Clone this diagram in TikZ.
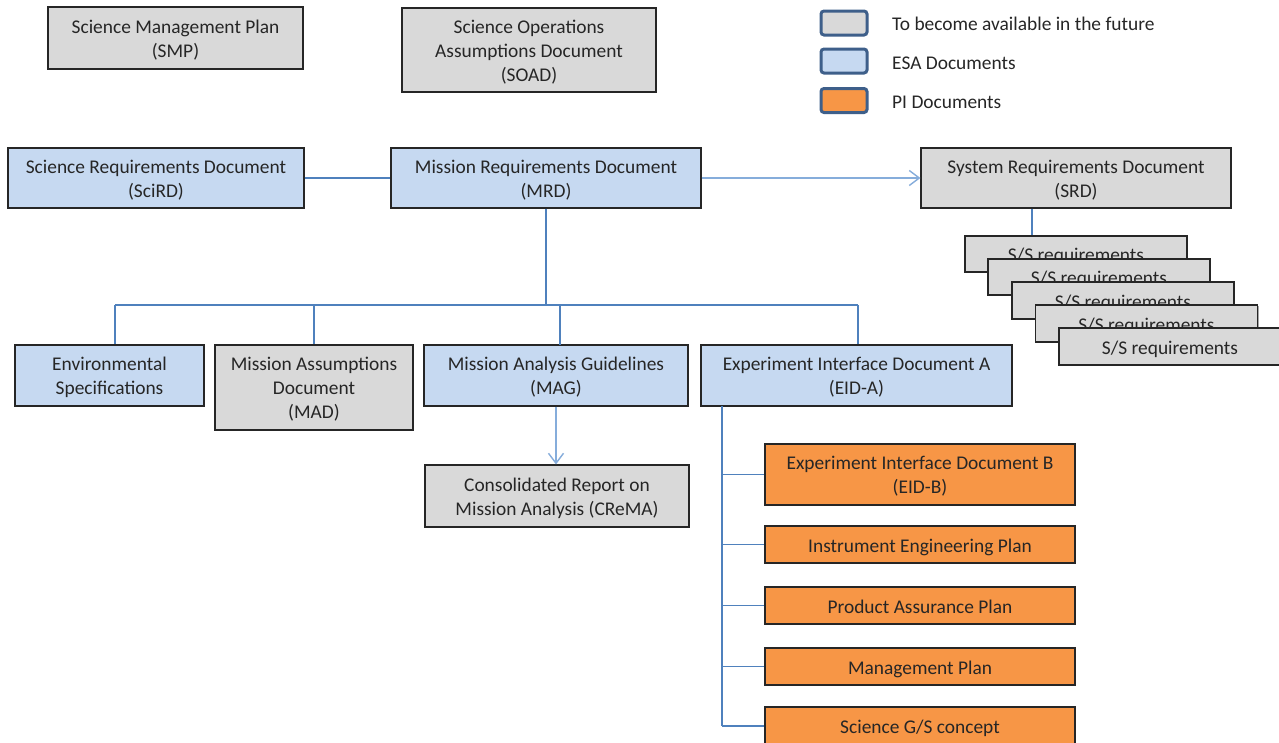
\documentclass[tikz,border=0pt]{standalone}
\usepackage{fontspec}
\setmainfont{Carlito}
\usetikzlibrary{arrows.meta,shadows}
\definecolor{esablue}{HTML}{C6D9F1}
\definecolor{futgray}{HTML}{D9D9D9}
\definecolor{piorange}{HTML}{F79646}
\definecolor{connblue}{HTML}{4F81BD}
\definecolor{arrblue}{HTML}{86ADDB}
\definecolor{legborder}{HTML}{3E5F8A}
\definecolor{txt}{HTML}{262626}
\tikzset{
  doc/.style={draw=black!85, line width=1.1pt, rectangle, inner sep=0pt, align=center,
    text=txt, font=\fontsize{19.4}{24}\selectfont, text height=15pt, text depth=0pt,
    drop shadow={shadow xshift=1.4pt, shadow yshift=-1.4pt, opacity=.35, fill=black}},
  twolines/.style={text height=38.5pt},
  threelines/.style={text height=62pt},
  esa/.style={doc, fill=esablue},
  fut/.style={doc, fill=futgray},
  pi/.style={doc, fill=piorange},
  conn/.style={draw=connblue, line width=1.8pt},
  arr/.style={draw=arrblue, line width=1.4pt, -{Straight Barb[length=10pt,width=15pt,line width=1.4pt]}},
  legbox/.style={draw=legborder, line width=3pt, rounded corners=3pt, minimum width=46pt, minimum height=24pt, inner sep=0pt},
  legtext/.style={anchor=west, text=txt, font=\fontsize{19.4}{24}\selectfont, inner sep=0pt},
}
\begin{document}
\begin{tikzpicture}[x=1pt,y=-1pt]
\useasboundingbox (0,0) rectangle (1279,742);
\fill[white] (0,0) rectangle (1279,742);

% legend
\node[legbox, fill=futgray] (lg1) at (844,23) {};
\node[legbox, fill=esablue] (lg2) at (844,61) {};
\node[legbox, fill=piorange] (lg3) at (844,100.5) {};
\node[legtext] (lt1) at (892,24) {To become available in the future};
\node[legtext] (lt2) at (892,63) {ESA Documents};
\node[legtext] (lt3) at (892,102) {PI Documents};

% top documents
\node[fut, twolines, minimum width=255pt, minimum height=62pt] (smp) at (175.5,38) {Science Management Plan\\(SMP)};
\node[fut, threelines, minimum width=254pt, minimum height=84pt] (soad) at (529,50) {Science Operations\\Assumptions Document\\(SOAD)};

\node[esa, twolines, minimum width=296pt, minimum height=60pt] (scird) at (156,178) {Science Requirements Document\\(SciRD)};
\node[esa, twolines, minimum width=310pt, minimum height=60pt] (mrd) at (546,178) {Mission Requirements Document\\(MRD)};
\node[fut, twolines, minimum width=310pt, minimum height=60pt] (srd) at (1076,178) {System Requirements Document\\(SRD)};

% S/S stack
\node[fut, minimum width=222pt, minimum height=36pt] (ss1) at (1076,254) {S/S requirements};
\node[fut, minimum width=222pt, minimum height=36pt] (ss2) at (1099,277) {S/S requirements};
\node[fut, minimum width=222pt, minimum height=37pt] (ss3) at (1123,300.5) {S/S requirements};
\node[fut, minimum width=222pt, minimum height=37pt] (ss4) at (1146.5,323.5) {S/S requirements};
\node[fut, minimum width=222pt, minimum height=37pt] (ss5) at (1170,346.5) {S/S requirements};

% second row
\node[esa, twolines, minimum width=189pt, minimum height=61pt] (env) at (109.5,375.5) {Environmental\\Specifications};
\node[fut, threelines, minimum width=198pt, minimum height=85pt] (mad) at (314,387.5) {Mission Assumptions\\Document\\(MAD)};
\node[esa, twolines, minimum width=264pt, minimum height=61pt] (mag) at (556,375.5) {Mission Analysis Guidelines\\(MAG)};
\node[esa, twolines, minimum width=311pt, minimum height=61pt] (eida) at (856.5,375.5) {Experiment Interface Document A\\(EID-A)};

\node[fut, twolines, minimum width=264pt, minimum height=62pt] (crema) at (557,496) {Consolidated Report on\\Mission Analysis (CReMA)};

% PI documents
\node[pi, twolines, minimum width=310pt, minimum height=61pt] (eidb) at (920,474.5) {Experiment Interface Document B\\(EID-B)};
\node[pi, minimum width=310pt, minimum height=37pt] (iep) at (920,544.5) {Instrument Engineering Plan};
\node[pi, minimum width=310pt, minimum height=37pt] (pap) at (920,605.5) {Product Assurance Plan};
\node[pi, minimum width=310pt, minimum height=37pt] (mp) at (920,666.5) {Management Plan};
\node[pi, minimum width=310pt, minimum height=37pt] (gs) at (920,725.5) {Science G/S concept};

% connectors
\draw[conn] (scird.east) -- (mrd.west);
\draw[arr] (mrd.east) -- (srd.west);
\draw[conn] ([xshift=-44pt]srd.south) -- ([xshift=-44pt]srd.south |- ss1.north);

\coordinate (busM) at (546,305);
\coordinate (busL) at (115,305);
\coordinate (busR) at (858,305);
\draw[conn] (mrd.south) -- (busM);
\draw[conn] (busL) -- (busR);
\draw[conn] (busL) -- (busL |- env.north);
\draw[conn] (busL -| mad.north) -- (mad.north);
\draw[conn] (560,305) -- (560,345);
\draw[conn] (busR) -- (busR |- eida.north);

\draw[arr] (mag.south) -- (mag.south |- crema.north);

\coordinate (eidx) at (722,406);
\coordinate (eidend) at (722,726);
\draw[conn] (eidx) -- (eidend);
\draw[conn] (eidx |- eidb.west) -- (eidb.west);
\draw[conn] (eidx |- iep.west) -- (iep.west);
\draw[conn] (eidx |- pap.west) -- (pap.west);
\draw[conn] (eidx |- mp.west) -- (mp.west);
\draw[conn] (eidend) -- (eidend -| gs.west);
\end{tikzpicture}
\end{document}
